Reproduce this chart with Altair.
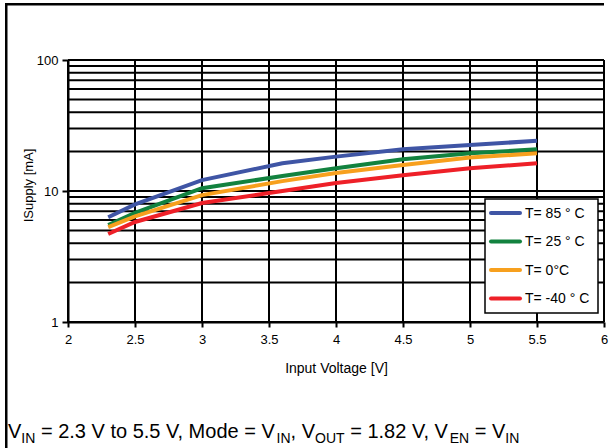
import altair as alt
import pandas as pd

# ---- data ----
voltage = [2.3, 2.5, 3.0, 3.6, 4.0, 4.5, 5.0, 5.5]
i_85 = [6.3, 7.9, 12.1, 16.3, 18.3, 20.8, 22.4, 24.2]
i_25 = [5.5, 6.8, 10.5, 13.0, 14.9, 17.5, 19.4, 20.8]
i_0 = [5.3, 6.4, 9.3, 11.9, 13.7, 15.8, 18.0, 19.4]
i_m40 = [4.7, 5.8, 8.1, 10.0, 11.5, 13.2, 14.9, 16.3]
series_labels = ["T= 85 ° C", "T= 25 ° C", "T= 0°C", "T= -40 ° C"]
series_colors = ["#3F55A5", "#12823F", "#F7A01E", "#EE2028"]
x_ticks = [2, 2.5, 3, 3.5, 4, 4.5, 5, 5.5, 6]
y_major = [1, 10, 100]
y_grid = [1, 2, 3, 4, 5, 6, 7, 8, 9, 10, 20, 30, 40, 50, 60, 70, 80, 90, 100]

FONT = "Liberation Sans"
W, H = 536, 262
LEFT, TOP = 68, 60
TOTAL_W, TOTAL_H = 609, 448

rows = []
for lab, vals in zip(series_labels, [i_85, i_25, i_0, i_m40]):
    for v, c in zip(voltage, vals):
        rows.append({"Voltage": v, "Current": c, "Series": lab})
df = pd.DataFrame(rows)

xscale = alt.Scale(domain=[2, 6], nice=False, zero=False)
yscale = alt.Scale(type="log", domain=[1, 100], nice=False)

xaxis = alt.Axis(
    values=x_ticks,
    format="~g",
    title="Input Voltage [V]",
    grid=False,
    tickSize=5,
    tickWidth=2,
    tickColor="black",
    domainColor="black",
    domainWidth=2,
    labelFont=FONT,
    labelFontSize=13,
    labelColor="black",
    labelPadding=6,
    labelFlush=False,
    titleFont=FONT,
    titleFontSize=14,
    titleFontWeight="normal",
    titleColor="black",
    titleY=46,
    titleBaseline="middle",
)
yaxis = alt.Axis(
    values=y_major,
    format="~g",
    title="ISupply [mA]",
    grid=False,
    tickSize=6,
    tickWidth=2,
    tickColor="black",
    domainColor="black",
    domainWidth=2,
    labelFont=FONT,
    labelFontSize=13,
    labelColor="black",
    labelPadding=4,
    labelFlush=False,
    titleFont=FONT,
    titleFontSize=13,
    titleFontWeight="normal",
    titleColor="black",
    titleX=-40,
    titleY=125,
    titleAngle=270,
    titleBaseline="middle",
    titleAlign="center",
)

hgrid = alt.Chart(pd.DataFrame({"g": y_grid})).mark_rule(
    color="black", strokeWidth=2
).encode(y=alt.Y("g:Q", scale=yscale, axis=yaxis))

vgrid = alt.Chart(pd.DataFrame({"g": x_ticks})).mark_rule(
    color="black", strokeWidth=2
).encode(x=alt.X("g:Q", scale=xscale, axis=xaxis))

lines = alt.Chart(df).mark_line(strokeWidth=4, clip=True).encode(
    x=alt.X("Voltage:Q", scale=xscale, axis=xaxis),
    y=alt.Y("Current:Q", scale=yscale, axis=yaxis),
    color=alt.Color(
        "Series:N",
        scale=alt.Scale(domain=series_labels, range=series_colors),
        sort=series_labels,
        legend=None,
    ),
)


def one_row(col):
    return pd.DataFrame({"a": [col]})


# outer frame: only its top and left edges fall inside the picture (filled bars)
frame_left = alt.Chart(one_row(0)).mark_rect(fill="black", strokeWidth=0).encode(
    x=alt.value(5 - LEFT), x2=alt.value(7.5 - LEFT),
    y=alt.value(3 - TOP), y2=alt.value(TOTAL_H - TOP),
)
frame_top = alt.Chart(one_row(0)).mark_rect(fill="black", strokeWidth=0).encode(
    x=alt.value(5 - LEFT), x2=alt.value(W),
    y=alt.value(3 - TOP), y2=alt.value(5.5 - TOP),
)

# legend box drawn by hand (position in the reference)
LB_X0, LB_X1, LB_Y0, LB_Y1 = 485, 598, 199, 313
legend_layers = [
    alt.Chart(one_row(0)).mark_rect(fill="white", stroke="black", strokeWidth=1.5).encode(
        x=alt.value(LB_X0 - LEFT), x2=alt.value(LB_X1 - LEFT),
        y=alt.value(LB_Y0 - TOP), y2=alt.value(LB_Y1 - TOP),
    )
]
for i, (lab, colr) in enumerate(zip(series_labels, series_colors)):
    yy = 213 + 28.5 * i - TOP
    legend_layers.append(
        alt.Chart(one_row(lab)).mark_rule(color=colr, strokeWidth=4, strokeCap="round").encode(
            x=alt.value(491 - LEFT), x2=alt.value(520 - LEFT), y=alt.value(yy), y2=alt.value(yy)
        )
    )
    legend_layers.append(
        alt.Chart(one_row(lab)).mark_text(
            align="left", baseline="middle", font=FONT, fontSize=14, color="black"
        ).encode(text="a:N", x=alt.value(525 - LEFT), y=alt.value(yy + 0.5))
    )

# caption with subscripts
MAIN, SUB = 20, 14
arial = {
    "V": 667, " ": 278, "=": 584, "2": 556, ".": 278, "3": 556, "t": 278, "o": 556,
    "5": 556, ",": 278, "M": 833, "d": 556, "e": 556, "1": 556, "8": 556, "I": 278,
    "N": 722, "O": 778, "U": 722, "T": 611, "E": 667,
}
segments = [
    ("V", False), ("IN", True), (" = 2.3 V to 5.5 V, Mode = V", False), ("IN", True),
    (", V", False), ("OUT", True), (" = 1.82 V, V", False), ("EN", True),
    (" = V", False), ("IN", True),
]
caption_layers = []
cx = 8.0
baseline = 438
for txt, sub in segments:
    size = SUB if sub else MAIN
    lead = len(txt) - len(txt.lstrip(" "))
    start = cx + lead * arial[" "] * size / 1000
    caption_layers.append(
        alt.Chart(one_row(txt.strip())).mark_text(
            align="left", baseline="alphabetic", font=FONT, fontSize=size, color="black"
        ).encode(
            text="a:N",
            x=alt.value(start - LEFT),
            y=alt.value(baseline + (5 if sub else 0) - TOP),
        )
    )
    cx += sum(arial[ch] for ch in txt) * size / 1000

chart = alt.layer(
    hgrid, vgrid, lines, frame_left, frame_top, *legend_layers, *caption_layers
).properties(
    width=W,
    height=H,
    padding={"left": LEFT, "top": TOP, "right": TOTAL_W - LEFT - W, "bottom": TOTAL_H - TOP - H},
    autosize=alt.AutoSizeParams(type="none"),
    background="white",
).configure_view(stroke=None)

chart.save("out.html", embed_options={"renderer": "svg", "actions": False})
